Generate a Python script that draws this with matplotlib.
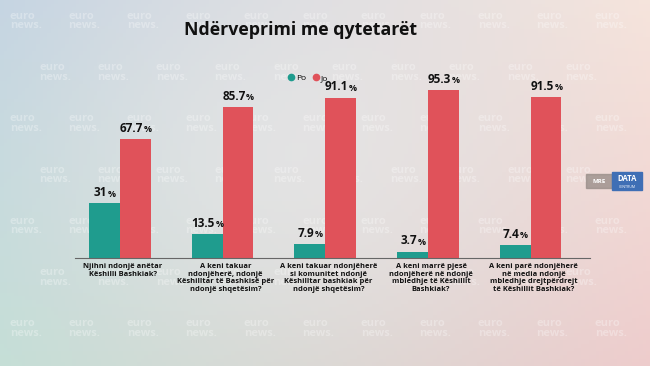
import matplotlib.pyplot as plt
from matplotlib.lines import Line2D
import numpy as np

plt.rcParams['font.family'] = ['Open Sans', 'DejaVu Sans']

questions = [
    'Njihni ndonjë anëtar\nKëshilli Bashkiak?',
    'A keni takuar\nndonjëherë, ndonjë\nKëshilltar të Bashkisë për\nndonjë shqetësim?',
    'A keni takuar ndonjëherë\nsi komunitet ndonjë\nKëshilltar bashkiak për\nndonjë shqetësim?',
    'A keni marrë pjesë\nndonjëherë në ndonjë\nmbledhje të Këshillit\nBashkiak?',
    'A keni parë ndonjëherë\nnë media ndonjë\nmbledhje drejtpërdrejt\ntë Këshillit Bashkiak?',
]
po = [31, 13.5, 7.9, 3.7, 7.4]
jo = [67.7, 85.7, 91.1, 95.3, 91.5]
po_labels = ['31', '13.5', '7.9', '3.7', '7.4']
jo_labels = ['67.7', '85.7', '91.1', '95.3', '91.5']

c_po = '#1f9c8e'
c_jo = '#e0525a'

fig = plt.figure(figsize=(6.5, 3.66), dpi=100)

# background gradient
bg = fig.add_axes([0, 0, 1, 1])
h, w = 100, 180
yy, xx = np.mgrid[0:1:h * 1j, 0:1:w * 1j]
tl = np.array([196, 212, 226]) / 255
tr = np.array([246, 228, 220]) / 255
bl = np.array([196, 222, 214]) / 255
br = np.array([238, 204, 204]) / 255
img = (tl * ((1 - xx) * (1 - yy))[..., None] + tr * (xx * (1 - yy))[..., None]
       + bl * ((1 - xx) * yy)[..., None] + br * (xx * yy)[..., None])
glow = np.exp(-(((xx - 0.45) / 0.35) ** 2 + ((yy - 0.45) / 0.5) ** 2))[..., None]
img = img * (1 - 0.5 * glow) + 0.5 * glow * np.array([0.93, 0.93, 0.93])
bg.imshow(img, aspect='auto', extent=[0, 1, 0, 1], origin='upper')
# faint watermark grid
for j in range(7):
    off = 0.045 if j % 2 else 0.0
    for i in range(11):
        xw = 0.015 + off + i * 0.09
        if xw > 0.93:
            continue
        bg.text(xw, 0.97 - j * 0.14, 'euro\nnews.', color='white', alpha=0.3,
                fontsize=8, fontweight='bold', linespacing=0.8, va='top')
bg.set_xlim(0, 1)
bg.set_ylim(0, 1)
bg.axis('off')

fig.text(0.462, 0.918, 'Ndërveprimi me qytetarët', ha='center', va='center',
         fontsize=12.8, fontweight='bold', color='#111111')

ax = fig.add_axes([0.115, 0.295, 0.793, 0.481])
ax.patch.set_alpha(0)
x = np.arange(len(questions))
bw = 0.3
ax.bar(x - bw / 2, po, bw, color=c_po)
ax.bar(x + bw / 2, jo, bw, color=c_jo)

fig.canvas.draw()
for xi, v, t in zip(x, po, po_labels):
    a = ax.annotate(t, (xi - bw / 2, v), xytext=(-3, 3), textcoords='offset points',
                    ha='center', va='bottom', fontsize=8.5, fontweight='bold', color='#111111')
    ax.annotate('%', xy=(1, 0), xycoords=a, xytext=(0.5, 0.5), textcoords='offset points',
                ha='left', va='bottom', fontsize=6.5, fontweight='bold', color='#111111')
for xi, v, t in zip(x, jo, jo_labels):
    a = ax.annotate(t, (xi + bw / 2, v), xytext=(-3, 3), textcoords='offset points',
                    ha='center', va='bottom', fontsize=8.5, fontweight='bold', color='#111111')
    ax.annotate('%', xy=(1, 0), xycoords=a, xytext=(0.5, 0.5), textcoords='offset points',
                ha='left', va='bottom', fontsize=6.5, fontweight='bold', color='#111111')
for xi, q in zip(x, questions):
    ax.text(xi + 0.03, -3, q, ha='center', va='top', fontsize=5.4, fontweight='bold',
            color='#111111', linespacing=1.1)

ax.set_xlim(-0.44, 4.58)
ax.set_ylim(0, 100)
for s in ['top', 'right', 'left']:
    ax.spines[s].set_visible(False)
ax.spines['bottom'].set_color('#666666')
ax.spines['bottom'].set_linewidth(0.8)
ax.set_xticks([])
ax.set_yticks([])

handles = [Line2D([], [], marker='o', ls='', color=c_po, markersize=4.5, label='Po'),
           Line2D([], [], marker='o', ls='', color=c_jo, markersize=4.5, label='Jo')]
fig.legend(handles=handles, loc='center', bbox_to_anchor=(0.474, 0.787), ncol=2,
           frameon=False, fontsize=6, handlelength=0.8, columnspacing=0.8,
           handletextpad=0.2)

# small logo
fig.patches.append(plt.Rectangle((0.902, 0.485), 0.04, 0.04, color='#9a8f8a',
                                 transform=fig.transFigure, alpha=0.8))
fig.text(0.922, 0.505, 'MRE', ha='center', va='center', fontsize=4.5, color='white',
         fontweight='bold')
fig.patches.append(plt.Rectangle((0.942, 0.48), 0.046, 0.05, color='#3f6fb5',
                                 transform=fig.transFigure))
fig.text(0.965, 0.512, 'DATA', ha='center', va='center', fontsize=5.5, color='white',
         fontweight='bold')
fig.text(0.965, 0.49, 'CENTRUM', ha='center', va='center', fontsize=2.5, color='white')

fig.savefig('out.png', dpi=100)
